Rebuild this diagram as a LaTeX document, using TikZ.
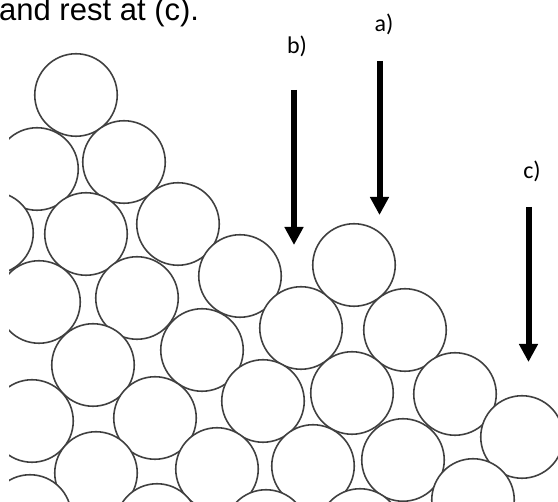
\documentclass[tikz,border=0pt]{standalone}
\usepackage{fontspec}
\setmainfont{Liberation Sans}
\newfontfamily\calib{Carlito}
\usetikzlibrary{arrows.meta}
\begin{document}
\begin{tikzpicture}[x=1pt,y=-1pt,
  ball/.style={circle,draw=black!75,line width=1.6pt,fill=white,minimum size=82.5pt,inner sep=0pt},
  fall/.style={line width=6pt,-{Triangle[width=18pt,length=18pt]}},
  lab/.style={font=\calib\fontsize{24}{28}\selectfont,inner sep=0pt}]
\useasboundingbox (0,0) rectangle (558,502);
\begin{scope}
\clip (0,0) rectangle (558,502);
\node[anchor=base west,inner sep=0pt,font=\fontsize{31}{36}\selectfont] (txt) at (-1,21) {and rest at (c).};
\end{scope}
\begin{scope}
\clip (9,40) rectangle (558,502);
\foreach \n/\x/\y in {1/76/95, 2/37/169, 3/124/162, 4/-8/233, 5/86/234, 6/178/224,
  7/39/302, 8/137/298, 9/240/276, 10/93/365, 11/202/350, 12/301/328, 13/354/265,
  14/32/421, 15/155/418, 16/263/401, 17/405/330, 18/352/393, 19/96/473, 20/217/469,
  21/455/394, 22/522/437, 23/313/466, 24/403/460, 25/473/500,
  26/30/516, 27/157/525, 28/266/531, 29/360/530}
  \node[ball] (c\n) at (\x,\y) {};
\end{scope}
\coordinate (aS) at (379.5,61);  \coordinate (aE) at (379.5,215);
\coordinate (bS) at (294,90);    \coordinate (bE) at (294,245);
\coordinate (cS) at (528.5,207); \coordinate (cE) at (528.5,362);
\draw[fall] (aS) -- (aE);
\draw[fall] (bS) -- (bE);
\draw[fall] (cS) -- (cE);
\node[lab] (la) at (384,24) {a)};
\node[lab] (lb) at (297,46) {b)};
\node[lab] (lc) at (532,171) {c)};
\end{tikzpicture}
\end{document}
